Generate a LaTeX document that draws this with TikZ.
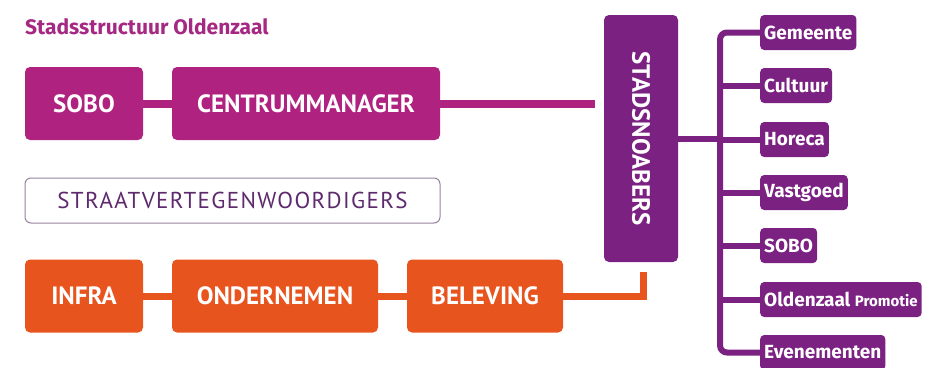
\documentclass[tikz,border=0pt]{standalone}
\usepackage{fontspec}
\setmainfont{PT Sans}
\newfontfamily\roundfont{Fira Sans}
\definecolor{sobopink}{RGB}{176,34,127}
\definecolor{titlepink}{RGB}{165,40,130}
\definecolor{noaberpurple}{RGB}{123,33,130}
\definecolor{infraorange}{RGB}{232,84,30}
\definecolor{straattext}{RGB}{94,42,110}
\definecolor{straatline}{RGB}{150,130,158}

\begin{document}
\begin{tikzpicture}[x=1pt,y=-1pt,
    bigbox/.style={rounded corners=5pt, text=white, inner sep=0pt,
        minimum height=73pt, font=\fontsize{25}{25}\selectfont\bfseries},
    pinkbox/.style={bigbox, fill=sobopink},
    orangebox/.style={bigbox, fill=infraorange},
    smallbox/.style={fill=noaberpurple, rounded corners=4pt, text=white, anchor=west,
        inner xsep=4pt, inner ysep=0pt, minimum height=35pt,
        font=\roundfont\fontsize{19}{19}\selectfont\bfseries},
    pinkline/.style={draw=sobopink, line width=8pt},
    orangeline/.style={draw=infraorange, line width=7pt},
    treeline/.style={draw=noaberpurple, line width=6pt}]
    \useasboundingbox (0,0) rectangle (936,367);

    \node[anchor=base west, inner sep=0pt, text=titlepink,
        font=\roundfont\fontsize{21}{21}\selectfont\bfseries] (title) at (25,34) {Stadsstructuur Oldenzaal};

    \node[pinkbox, minimum width=118pt] (sobo) at (84,103.5) {SOBO};
    \node[pinkbox, minimum width=268pt] (centrum) at (306,103.5) {CENTRUMMANAGER};

    \node[draw=straatline, line width=1pt, rounded corners=6pt, text=straattext,
        minimum width=415pt, minimum height=45pt, inner sep=0pt,
        font=\fontsize{23}{23}\selectfont\addfontfeature{LetterSpace=6}] (straat) at (232.5,200.5)
        {STRAATVERTEGENWOORDIGERS};

    \node[orangebox, minimum width=118pt] (infra) at (84,296) {INFRA};
    \node[orangebox, minimum width=206pt] (ondernemen) at (275,296) {ONDERNEMEN};
    \node[orangebox, minimum width=156pt] (beleving) at (485,296) {BELEVING};

    \node[bigbox, fill=noaberpurple, rotate=-90, minimum width=247pt, minimum height=74pt] (stad)
        at (641,138.5) {STADSNOABERS};

    \node[smallbox] (gemeente) at (760,32.5) {Gemeente};
    \node[smallbox] (cultuur) at (760,85.5) {Cultuur};
    \node[smallbox] (horeca) at (760,139.5) {Horeca};
    \node[smallbox] (vastgoed) at (760,192.5) {Vastgoed};
    \node[smallbox] (sobo2) at (760,245.5) {SOBO};
    \node[smallbox] (promotie) at (760,299.5) {Oldenzaal {\fontsize{15}{15}\selectfont Promotie}};
    \node[smallbox] (evenementen) at (760,352.5) {Evenementen};

    \coordinate (trunk) at (720,0);
    \coordinate (orangeend) at (643,272);

    \draw[pinkline] (sobo.east) -- (centrum.west);
    \draw[pinkline, shorten >=9pt] (centrum.east) -- (centrum.east -| stad.south);
    \draw[orangeline] (infra.east) -- (ondernemen.west);
    \draw[orangeline] (ondernemen.east) -- (beleving.west);
    \draw[orangeline] (beleving.east) -| (orangeend);

    \draw[treeline] (stad.north) -- (stad.north -| trunk);
    \draw[treeline, rounded corners=7pt] (gemeente.west) -- (gemeente.west -| trunk)
        -- (evenementen.west -| trunk) -- (evenementen.west);
    \foreach \b in {cultuur,horeca,vastgoed,sobo2,promotie}
        \draw[treeline] (\b.west -| trunk) -- (\b.west);
\end{tikzpicture}
\end{document}
